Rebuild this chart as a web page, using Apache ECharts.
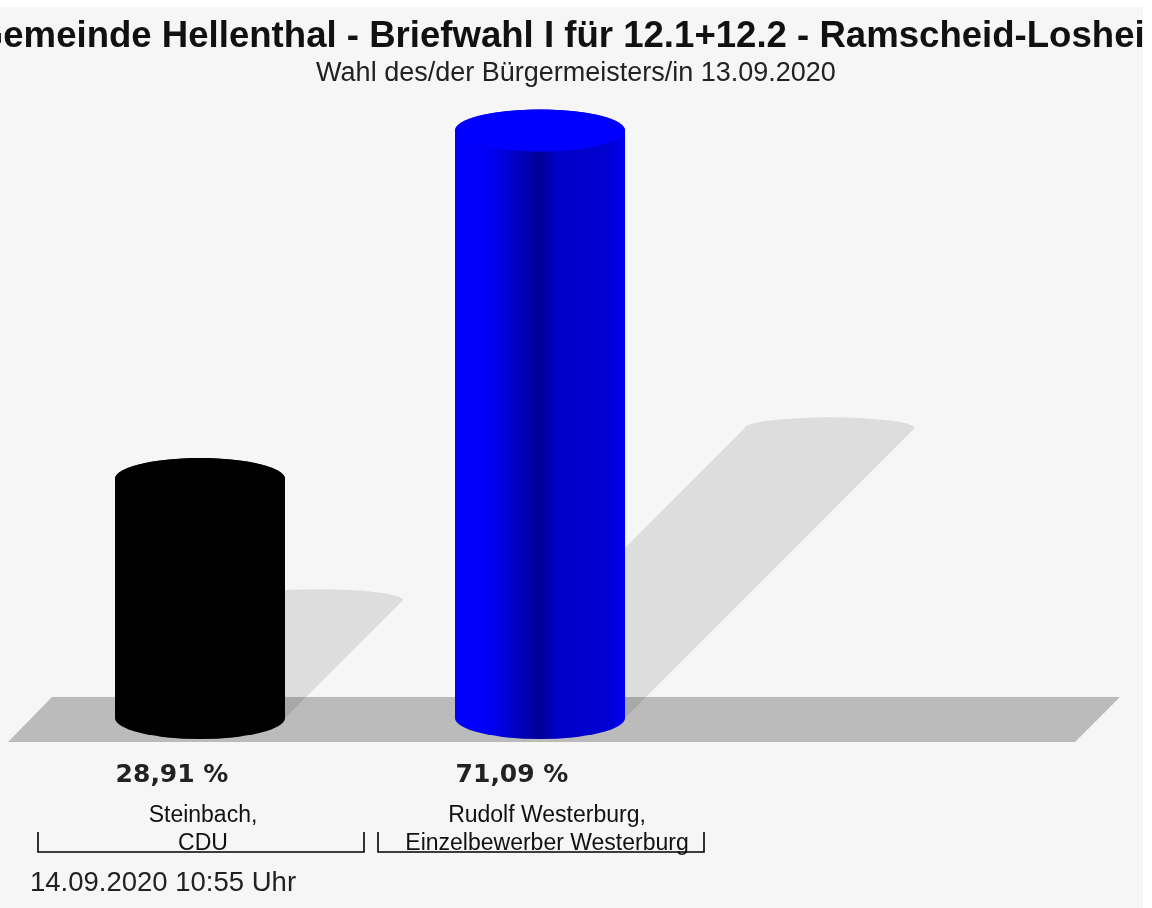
<!DOCTYPE html>
<html>
<head>
<meta charset="utf-8">
<script src="https://cdn.jsdelivr.net/npm/echarts@6/dist/echarts.min.js"></script>
<style>html,body{margin:0;padding:0;background:#fff}#c{width:1152px;height:908px}</style>
</head>
<body>
<div id="c"></div>
<script>
const titleText = 'Gemeinde Hellenthal - Briefwahl I für 12.1+12.2 - Ramscheid-Losheim';
const subtitleText = 'Wahl des/der Bürgermeisters/in 13.09.2020';
const footerText = '14.09.2020 10:55 Uhr';
const categories = ['Steinbach,\nCDU', 'Rudolf Westerburg,\nEinzelbewerber Westerburg'];
const shares = [28.91, 71.09];
const barColors = ['#000000', '#0000ff'];

const FONT = "'Liberation Sans', Arial, Helvetica, sans-serif";
const chart = echarts.init(document.getElementById('c'), null, {renderer: 'canvas'});

function fmt(v) { return v.toFixed(2).replace('.', ',') + ' %'; }

function darken(hex, f) {
  const n = parseInt(hex.slice(1), 16);
  const r = Math.round(((n >> 16) & 255) * f), g = Math.round(((n >> 8) & 255) * f), b = Math.round((n & 255) * f);
  return 'rgb(' + r + ',' + g + ',' + b + ')';
}

function geom(params, api) {
  const i = api.value(0), v = api.value(1);
  const base = api.coord([i, 0]);
  const top = api.coord([i, v]);
  const band = api.size([1, 0])[0];
  return {cx: base[0], y0: base[1], yt: top[1], band: band, rx: band * 0.25, ry: 21};
}

function renderShadow(params, api) {
  const g = geom(params, api);
  const d = 0.493 * (g.y0 - g.yt);
  const sry = 11;
  const p = 'M' + (g.cx + g.rx) + ',' + g.y0 +
    ' A' + g.rx + ',' + g.ry + ' 0 0 1 ' + (g.cx - g.rx) + ',' + g.y0 +
    ' L' + (g.cx - g.rx + d) + ',' + (g.y0 - d) +
    ' A' + g.rx + ',' + sry + ' 0 0 1 ' + (g.cx + g.rx + d) + ',' + (g.y0 - d) + ' Z';
  return {type: 'path', shape: {pathData: p}, style: {fill: 'rgba(0,0,0,0.1)'}};
}

function renderCyl(params, api) {
  const g = geom(params, api);
  const c = barColors[params.dataIndex];
  const grad = {type: 'linear', x: 0, y: 0, x2: 1, y2: 0, colorStops: [
    {offset: 0, color: c}, {offset: 0.2, color: darken(c, 0.97)},
    {offset: 0.5, color: darken(c, 0.58)}, {offset: 0.6, color: darken(c, 0.78)},
    {offset: 0.9, color: darken(c, 0.82)}, {offset: 1, color: darken(c, 0.95)}]};
  const p = 'M' + (g.cx - g.rx) + ',' + g.yt +
    ' A' + g.rx + ',' + g.ry + ' 0 0 1 ' + (g.cx + g.rx) + ',' + g.yt +
    ' L' + (g.cx + g.rx) + ',' + g.y0 +
    ' A' + g.rx + ',' + g.ry + ' 0 0 1 ' + (g.cx - g.rx) + ',' + g.y0 + ' Z';
  const x1 = g.cx - g.band / 2 + 8, x2 = g.cx + g.band / 2 - 6;
  return {type: 'group', children: [
    {type: 'path', shape: {pathData: p}, style: {fill: grad}},
    {type: 'ellipse', shape: {cx: g.cx, cy: g.yt, rx: g.rx, ry: g.ry}, style: {fill: c}},
    {type: 'text', style: {text: fmt(api.value(1)), x: g.cx - 28, y: g.y0 + 57,
      align: 'center', verticalAlign: 'middle', fill: '#222',
      font: "bold 25px 'DejaVu Sans', Verdana, sans-serif"}},
    {type: 'polyline', shape: {points: [[x1, g.y0 + 114], [x1, g.y0 + 134], [x2, g.y0 + 134], [x2, g.y0 + 114]]},
      style: {stroke: '#000', lineWidth: 1.6, fill: null}}
  ]};
}

const data = shares.map((v, i) => [i, v]);

chart.setOption({
  backgroundColor: '#f6f6f6',
  animation: false,
  title: [
    {text: titleText, left: 'center', top: 13, padding: [5, 5, 5, 5],
      textStyle: {fontFamily: FONT, fontSize: 36.6, fontWeight: 'bold', color: '#111'}},
    {text: subtitleText, left: 'center', top: 55, textStyle: {fontFamily: FONT, fontSize: 27, fontWeight: 'normal', color: '#222'}},
    {text: footerText, left: 25, top: 864, textStyle: {fontFamily: FONT, fontSize: 27.5, fontWeight: 'normal', color: '#222'}}
  ],
  grid: {left: 30, right: 442, top: 56.8, bottom: 190},
  xAxis: {type: 'category', data: categories, axisLine: {show: false}, axisTick: {show: false},
    axisLabel: {interval: 0, margin: 84, fontSize: 23, lineHeight: 28, color: '#111', fontFamily: FONT,
      formatter: function (value, index) {
        return value.split('\n').map(function (l) { return '{c' + index + '|' + l + '}'; }).join('\n');
      },
      rich: {
        c0: {fontSize: 23, lineHeight: 28, color: '#111', fontFamily: FONT, padding: [0, 0, 0, 6]},
        c1: {fontSize: 23, lineHeight: 28, color: '#111', fontFamily: FONT, padding: [0, 0, 0, 14]}
      }}},
  yAxis: {type: 'value', min: 0, max: 80, show: false, splitLine: {show: false}},
  graphic: {elements: [
    {type: 'polygon', z: 0, shape: {points: [[8, 742], [52, 697], [1120, 697], [1075, 742]]}, style: {fill: '#bbbbbb'}},
    {type: 'rect', z: 100, shape: {x: 1143, y: 0, width: 9, height: 908}, style: {fill: '#ffffff'}},
    {type: 'rect', z: 100, shape: {x: 0, y: 0, width: 1152, height: 7}, style: {fill: '#ffffff'}}
  ]},
  series: [
    {type: 'custom', z: 1, renderItem: renderShadow, data: data, silent: true},
    {type: 'custom', z: 3, renderItem: renderCyl, data: data, silent: true}
  ]
});
</script>
</body>
</html>
